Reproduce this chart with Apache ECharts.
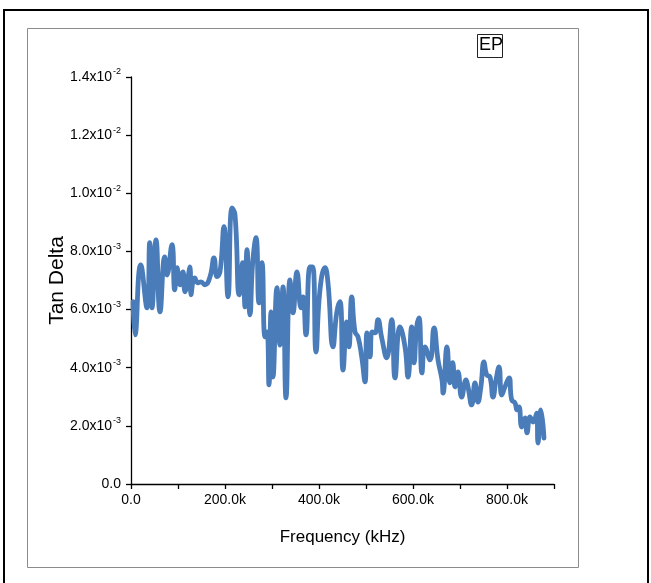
<!DOCTYPE html>
<html>
<head>
<meta charset="utf-8">
<script src="https://cdn.jsdelivr.net/npm/echarts@6/dist/echarts.min.js"></script>
<style>
  html, body { margin: 0; padding: 0; background: #fff; }
  #chart { width: 651px; height: 583px; }
</style>
</head>
<body>
<div id="chart"></div>
<script>
// Frequency in kHz (axis labels show e.g. 200.0k)
const frequency = [
  4.3, 8.5, 20.6, 34.0, 39.8, 44.7, 53.2, 61.7, 71.7, 76.6,
  87.2, 93.0, 97.9, 104.3, 110.6, 114.9, 125.5, 127.7, 135.5, 142.6,
  148.9, 157.4, 168.1, 176.6, 183.0, 189.4, 197.9, 206.4, 214.9, 221.3,
  230.4, 237.7, 242.6, 246.8, 253.2, 258.9, 266.0, 272.3, 278.7, 285.1,
  289.4, 293.6, 297.9, 302.1, 310.6, 317.0, 323.4, 329.8, 338.3, 344.7,
  353.2, 361.7, 366.0, 372.3, 380.9, 386.6, 393.6, 402.1, 412.8, 419.1,
  429.8, 437.7, 444.7, 451.1, 459.0, 463.8, 469.6, 476.6, 483.0, 490.9,
  497.9, 502.1, 508.5, 512.8, 519.1, 525.5, 533.4, 544.0, 554.7, 561.7,
  572.3, 583.0, 589.4, 597.2, 602.1, 607.9, 612.8, 619.1, 625.5, 636.2,
  644.7, 653.2, 661.7, 664.0, 672.3, 678.7, 684.5, 689.4, 695.7, 703.6,
  712.8, 717.0, 724.9, 731.9, 738.3, 744.1, 751.1, 756.8, 763.8, 770.2,
  776.6, 783.0, 788.8, 795.7, 804.3, 810.0, 817.0, 821.3, 825.5, 831.3,
  838.3, 842.6, 849.0, 855.3, 863.2, 866.0, 872.3, 878.7
];

// Tan delta, in units of 1e-3
const tanDelta = [
  6.27, 5.13, 7.54, 6.06, 8.30, 6.06, 8.40, 5.92, 7.81, 7.19,
  8.23, 6.68, 7.44, 6.85, 7.30, 6.61, 7.47, 6.51, 7.09, 6.92,
  6.95, 6.85, 7.13, 7.78, 7.13, 7.30, 8.85, 6.44, 9.50, 9.26,
  6.51, 7.61, 6.09, 8.06, 5.82, 7.61, 8.47, 6.23, 7.61, 5.06,
  5.23, 3.41, 5.92, 3.68, 6.75, 4.78, 6.78, 2.96, 7.02, 5.89,
  7.30, 6.06, 6.44, 5.13, 7.47, 7.47, 4.54, 6.68, 7.44, 6.92,
  4.72, 5.89, 6.27, 3.92, 5.58, 4.72, 6.44, 5.23, 5.06, 4.37,
  3.51, 5.20, 4.37, 5.23, 5.20, 5.65, 5.03, 4.34, 5.65, 3.65,
  5.40, 4.72, 3.68, 5.40, 4.17, 5.40, 5.71, 3.82, 4.72, 4.27,
  5.37, 4.27, 3.58, 3.13, 4.72, 3.48, 4.17, 3.34, 3.86, 2.99,
  3.58, 3.34, 2.72, 3.48, 2.82, 3.30, 4.20, 3.75, 3.68, 2.99,
  3.58, 4.03, 3.06, 3.34, 3.65, 2.89, 2.79, 2.55, 2.65, 1.96,
  2.27, 1.76, 2.31, 2.13, 2.44, 1.41, 2.55, 1.58
];

const seriesName = 'EP';
const xTitle = 'Frequency (kHz)';
const yTitle = 'Tan Delta';

const FONT = '"Liberation Sans", Arial, sans-serif';

function yLabel(v) {
  if (v === 0) return '{m|0.0}';
  if (v < 10) return '{m|' + v.toFixed(1) + 'x10}{s|-3}';
  return '{m|' + (v / 10).toFixed(1) + 'x10}{s|-2}';
}

function xLabel(v) {
  if (v === 0) return '0.0';
  if (v % 200 === 0 && v < 900) return v.toFixed(1) + 'k';
  return '';
}

const chart = echarts.init(document.getElementById('chart'), null, { renderer: 'canvas' });

chart.setOption({
  backgroundColor: '#ffffff',
  animation: false,
  grid: { left: 131, right: 97, top: 77, bottom: 99, containLabel: false },
  xAxis: {
    type: 'value',
    min: 0,
    max: 900,
    interval: 100,
    name: xTitle,
    nameLocation: 'middle',
    nameGap: 45,
    nameMoveOverlap: false,
    nameTextStyle: { fontFamily: FONT, fontSize: 17, color: '#000' },
    axisLine: { show: true, onZero: false, lineStyle: { color: '#000', width: 1.3 } },
    axisTick: { show: true, inside: false, length: 5, lineStyle: { color: '#000', width: 1.3 } },
    axisLabel: { formatter: xLabel, fontFamily: FONT, fontSize: 14, color: '#000', margin: 9 },
    splitLine: { show: false }
  },
  yAxis: {
    type: 'value',
    min: 0,
    max: 14,
    interval: 2,
    name: yTitle,
    nameLocation: 'middle',
    nameGap: 63,
    nameMoveOverlap: false,
    nameRotate: 90,
    nameTextStyle: { fontFamily: FONT, fontSize: 21, color: '#000' },
    axisLine: { show: true, onZero: false, lineStyle: { color: '#000', width: 1.3 } },
    axisTick: { show: true, inside: false, length: 5, lineStyle: { color: '#000', width: 1.3 } },
    axisLabel: {
      formatter: yLabel,
      margin: 10,
      rich: {
        m: { fontFamily: FONT, fontSize: 14, color: '#000' },
        s: { fontFamily: FONT, fontSize: 9, color: '#000', padding: [0, 0, 10, 1] }
      }
    },
    splitLine: { show: false }
  },
  series: [{
    name: seriesName,
    type: 'line',
    data: frequency.map((f, i) => [f, tanDelta[i]]),
    smooth: 0.5,
    showSymbol: false,
    lineStyle: { color: '#4a7cba', width: 4.8, cap: 'round', join: 'round' },
    clip: false
  }],
  graphic: [
    {
      type: 'rect',
      shape: { x: 4, y: 10, width: 644, height: 590 },
      style: { fill: null, stroke: '#000', lineWidth: 2 },
      silent: true
    },
    {
      type: 'rect',
      shape: { x: 27.5, y: 28.5, width: 551, height: 539 },
      style: { fill: null, stroke: '#8c8c8c', lineWidth: 1 },
      silent: true
    },
    {
      type: 'rect',
      shape: { x: 477.5, y: 34.5, width: 25, height: 23 },
      style: { fill: null, stroke: '#222', lineWidth: 1 },
      silent: true
    },
    {
      type: 'text',
      left: 479,
      top: 36,
      style: { text: seriesName, font: '18px ' + FONT, fill: '#000' },
      silent: true
    }
  ]
});
</script>
</body>
</html>
